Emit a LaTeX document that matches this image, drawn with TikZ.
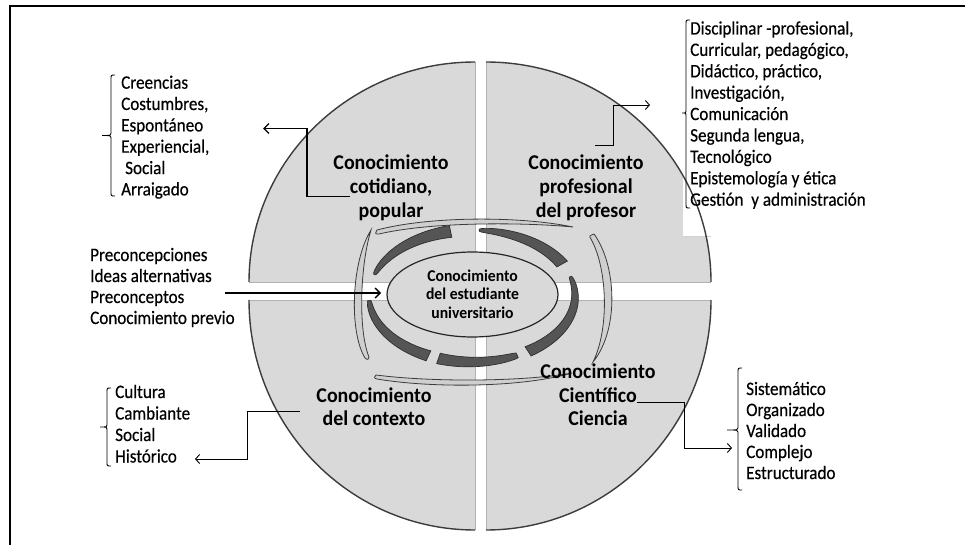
\documentclass[tikz,border=0pt]{standalone}
\usepackage{fontspec}
\setmainfont{Carlito}
\newfontfamily\lstfont[FakeStretch=0.9,FakeBold=0.35]{Carlito}
\newfontfamily\lblfont[FakeStretch=0.95]{Carlito}
\usetikzlibrary{arrows.meta,shapes.geometric}
\definecolor{quadfill}{HTML}{D9D9D9}
\definecolor{quadline}{HTML}{3C3C3C}
\definecolor{darkfill}{HTML}{555555}
\definecolor{darkline}{HTML}{2E2E2E}
\definecolor{slivfill}{HTML}{CFCFCF}
\newcommand\darkswoosh[4]{%
  \filldraw[darkarr] plot[domain=#1:#2, samples=50, variable=\t]
    ({472+(103+((#3)+((#4)-(#3))*sqrt(abs((\t-(#1))/((#2)-(#1)))))/2)*cos(\t)},
     {296-(66+((#3)+((#4)-(#3))*sqrt(abs((\t-(#1))/((#2)-(#1)))))/2)*sin(\t)})
  -- plot[domain=#2:#1, samples=50, variable=\t]
    ({472+(103-((#3)+((#4)-(#3))*sqrt(abs((\t-(#1))/((#2)-(#1)))))/2)*cos(\t)},
     {296-(66-((#3)+((#4)-(#3))*sqrt(abs((\t-(#1))/((#2)-(#1)))))/2)*sin(\t)})
  -- cycle;}
\newcommand\mybrk[5]{%
  \draw[brk] (#1+4,#2) .. controls (#1,#2) .. (#1,#2+4) -- (#1,#4-2)
    .. controls (#1,#4) .. (#5,#4) .. controls (#1,#4) .. (#1,#4+2)
    -- (#1,#3-4) .. controls (#1,#3) .. (#1+4,#3);}
\begin{document}
\begin{tikzpicture}[x=1pt,y=-1pt,
  lbl/.style={font=\fontsize{21}{24}\lblfont\bfseries, anchor=base, inner sep=0pt},
  ctr/.style={font=\fontsize{16.5}{18.5}\lblfont\bfseries, anchor=base, inner sep=0pt},
  lst/.style={font=\fontsize{19}{21}\lstfont, anchor=base west, inner sep=0pt},
  conn/.style={draw=black, line width=0.9pt, -{Straight Barb[length=4pt,width=9pt]}},
  thickconn/.style={draw=black, line width=1.8pt, -{Straight Barb[length=5pt,width=10pt,line width=1.4pt]}},
  brk/.style={draw=black, line width=0.9pt},
  darkarr/.style={fill=darkfill, draw=darkline, line width=0.7pt},
  sliv/.style={fill=slivfill, draw=quadline, line width=0.8pt},
  quad/.style={fill=quadfill},
  arcline/.style={draw=quadline, line width=1.4pt},
  edgeline/.style={draw=gray!60, line width=0.6pt}]
\useasboundingbox (0,0) rectangle (965,545);
\fill[white] (0,0) rectangle (965,545);
% frame
\draw[line width=2.6pt] (10,545) -- (10,6.2) -- (965,6.2);
% quadrants
\fill[quad] (475,282) -- (249,282) arc[start angle=180, end angle=270, x radius=226, y radius=220] -- cycle;
\fill[quad] (486,282) -- (486,62) arc[start angle=270, end angle=360, x radius=225, y radius=220] -- cycle;
\fill[quad] (486,300) -- (711,300) arc[start angle=0, end angle=90, x radius=225, y radius=230] -- cycle;
\fill[quad] (475,300) -- (475,530) arc[start angle=90, end angle=180, x radius=226, y radius=230] -- cycle;
% white text box over top-right quadrant
\fill[white] (683,14) rectangle (725,236);
\draw[gray!35, line width=0.5pt] (683,236) -- (711,236);
% quadrant edges
\draw[edgeline] (249,282) -- (475,282) -- (475,62);
\draw[edgeline] (486,62) -- (486,282) -- (711,282);
\draw[edgeline] (711,300) -- (486,300) -- (486,530);
\draw[edgeline] (475,530) -- (475,300) -- (249,300);
\draw[arcline] (249,282) arc[start angle=180, end angle=270, x radius=226, y radius=220];
\draw[arcline] (486,62) arc[start angle=270, end angle=360, x radius=225, y radius=220];
\draw[arcline] (711,300) arc[start angle=0, end angle=90, x radius=225, y radius=230];
\draw[arcline] (475,530) arc[start angle=90, end angle=180, x radius=226, y radius=230];
% light slivers
\filldraw[sliv] (377,230) .. controls (430,216) and (520,216) .. (573,227)
  .. controls (520,222) and (430,222) .. (379,234) .. controls (375,234) .. (377,230) -- cycle;
\filldraw[sliv] (371,230) .. controls (351,262) and (349,332) .. (365,358)
  .. controls (368,360) .. (369,357) .. controls (358,330) and (360,266) .. (371,230) -- cycle;
\filldraw[sliv] (594,234) .. controls (617,266) and (619,330) .. (593,362)
  .. controls (609,330) and (608,270) .. (591,239) .. controls (589,236) .. (594,234) -- cycle;
\filldraw[sliv] (376,375) .. controls (430,382) and (520,382) .. (572,373)
  .. controls (520,388) and (430,388) .. (377,379) .. controls (374,378) .. (376,375) -- cycle;
% dark circular arrows
\darkswoosh{161}{102}{2}{12}
\darkswoosh{86}{29}{2}{12}
\darkswoosh{17}{-57}{2.5}{11}
\darkswoosh{-64}{-109}{5}{11}
\darkswoosh{-176}{-115}{3}{11}
% centre ellipse
\node[draw=black!85, fill=quadfill, line width=1.2pt, ellipse, minimum width=171pt, minimum height=85pt, inner sep=0pt] (cel) at (472.5,294.5) {};
\node[ctr] (c1) at (472.5,281) {Conocimiento};
\node[ctr] (c2) at (472.5,299.5) {del estudiante};
\node[ctr] (c3) at (472.5,318) {universitario};
% quadrant labels
\node[lbl] (ul1) at (391,169.5) {Conocimiento};
\node[lbl] (ul2) at (391,193.5) {cotidiano,};
\node[lbl] (ul3) at (391,217.5) {popular};
\node[lbl] (ur1) at (586,169.5) {Conocimiento};
\node[lbl] (ur2) at (586,193.5) {profesional};
\node[lbl] (ur3) at (586,217.5) {del profesor};
\node[lbl] (ll1) at (374,402) {Conocimiento};
\node[lbl] (ll2) at (374,425.5) {del contexto};
\node[lbl] (lr1) at (598,378.5) {Conocimiento};
\node[lbl] (lr2) at (598,402) {Científico};
\node[lbl] (lr3) at (598,425.5) {Ciencia};
% lists
\node[lst] (a1) at (121,88.7) {Creencias};
\node[lst] (a2) at (121,110) {Costumbres,};
\node[lst] (a3) at (121,131.4) {Espontáneo};
\node[lst] (a4) at (121,152.7) {Experiencial,};
\node[lst] (a5) at (125,174.1) {Social};
\node[lst] (a6) at (121,195.4) {Arraigado};
\node[lst] (b1) at (690,34.5) {Disciplinar -profesional,};
\node[lst] (b2) at (690,55.9) {Curricular, pedagógico,};
\node[lst] (b3) at (690,77.3) {Didáctico, práctico,};
\node[lst] (b4) at (690,98.7) {Investigación,};
\node[lst] (b5) at (690,120.1) {Comunicación};
\node[lst] (b6) at (690,141.5) {Segunda lengua,};
\node[lst] (b7) at (690,162.9) {Tecnológico};
\node[lst] (b8) at (690,184.3) {Epistemología y ética};
\node[lst] (b9) at (690,205.7) {Gestión\ \ y administración};
\node[lst] (p1) at (90,261) {Preconcepciones};
\node[lst] (p2) at (90,282) {Ideas alternativas};
\node[lst] (p3) at (90,303) {Preconceptos};
\node[lst] (p4) at (90,324) {Conocimiento previo};
\node[lst] (d1) at (115,398) {Cultura};
\node[lst] (d2) at (115,419.5) {Cambiante};
\node[lst] (d3) at (115,441) {Social};
\node[lst] (d4) at (115,462.5) {Histórico};
\node[lst] (e1) at (746,395) {Sistemático};
\node[lst] (e2) at (746,416) {Organizado};
\node[lst] (e3) at (746,437) {Validado};
\node[lst] (e4) at (746,458) {Complejo};
\node[lst] (e5) at (746,479) {Estructurado};
% brackets
\mybrk{111}{75}{196}{135.5}{102}
\mybrk{686}{20}{208}{113}{682}
\mybrk{107}{388}{466}{427}{100}
\mybrk{738}{368}{490}{430}{727}
% connectors
\coordinate (ulE) at (263,128.5);
\coordinate (urS) at (595,145);
\coordinate (urE) at (650,105);
\coordinate (llS) at (300,411);
\coordinate (llE) at (195,459);
\coordinate (lrE) at (732,448);
\coordinate (lfS) at (225,293);
\coordinate (lfE) at (381,293);
\draw[thickconn] (ul2.south west) -- ++(-43,0) |- (ulE);
\draw[conn] (urS) -- ++(18,0) |- (urE);
\draw[conn] (llS) -- ++(-53,0) |- (llE);
\draw[conn] (lr2.base east) -- ++(47,0) |- (lrE);
\draw[thickconn] (lfS) -- (lfE);
\end{tikzpicture}
\end{document}
